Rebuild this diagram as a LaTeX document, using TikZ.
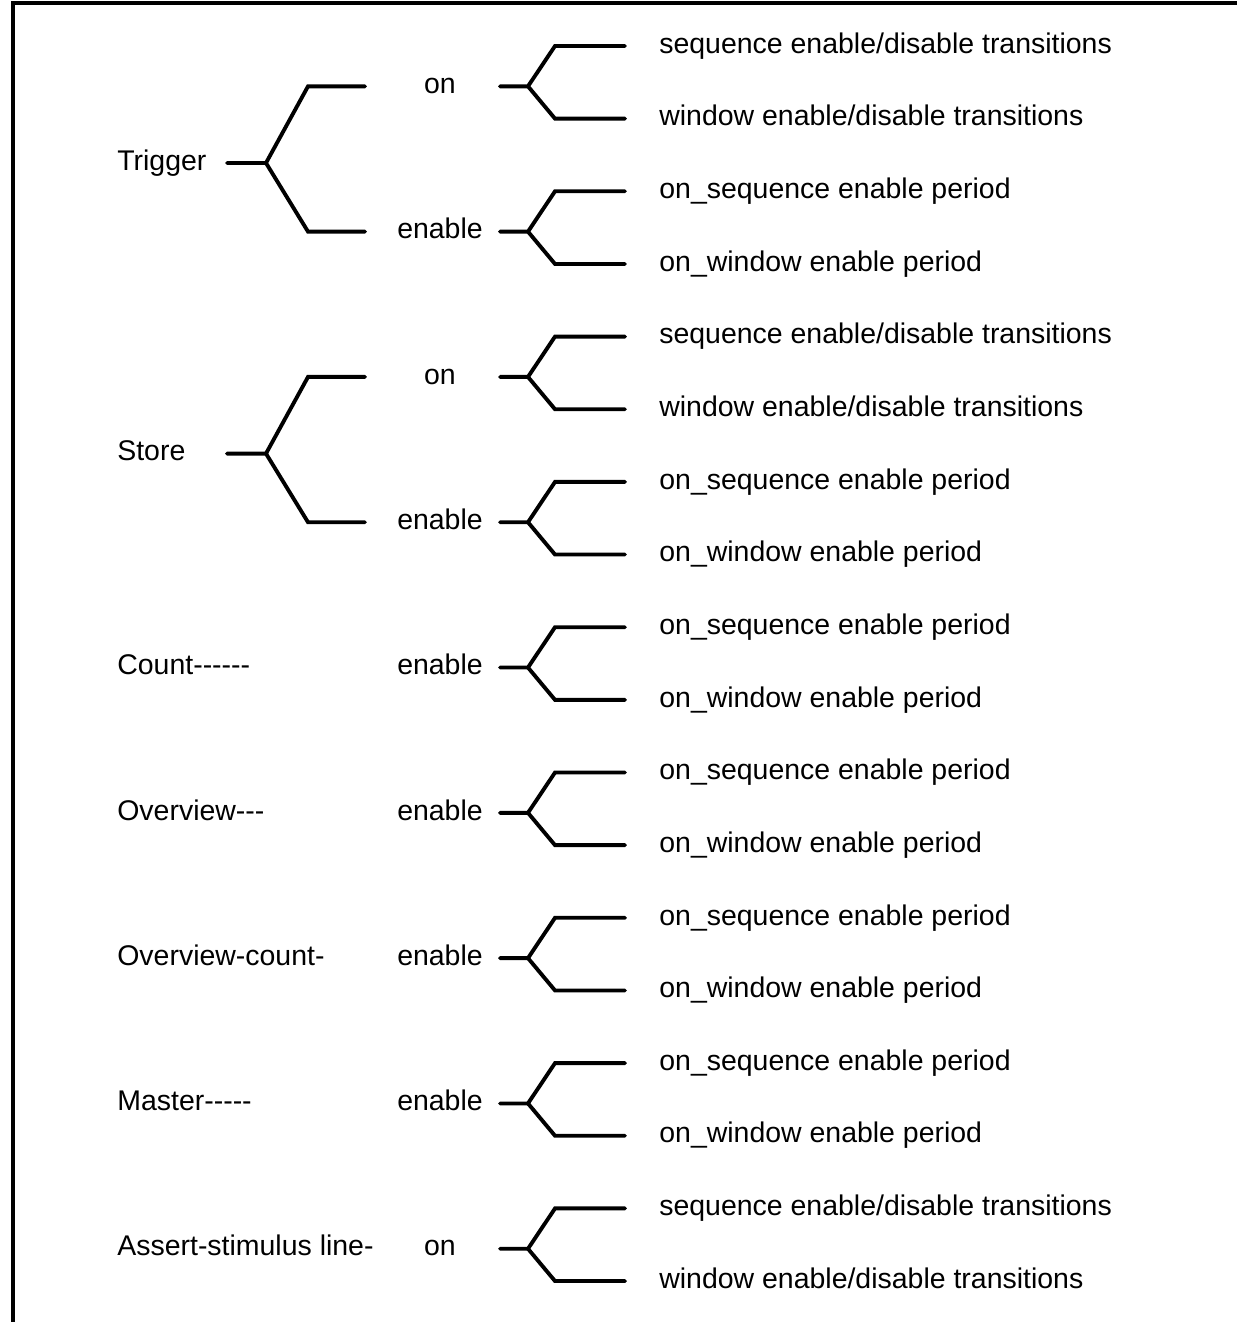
\documentclass[tikz,border=0pt]{standalone}
\usepackage{fontspec}
\setmainfont{Liberation Sans}
\usetikzlibrary{calc}

\begin{document}
\begin{tikzpicture}[
  x=0.02cm, y=-0.02cm,
  every node/.style={font=\fontsize{16.2}{19}\selectfont, inner sep=0pt,
    text height=1.75ex, text depth=.2ex},
  lbl/.style={anchor=west},
  mid/.style={anchor=center},
  leaf/.style={anchor=west},
  fork/.style={line width=2.2pt, line cap=round},
  frame/.style={line width=1.8pt},
]
  \useasboundingbox (0,0) rectangle (1237,1322);
  \draw[frame] (1237,3) -- (13,3) -- (13,1322);

  % right-hand column
  \foreach \t [count=\k from 0] in {
      sequence enable/disable transitions, window enable/disable transitions,
      on\_sequence enable period, on\_window enable period,
      sequence enable/disable transitions, window enable/disable transitions,
      on\_sequence enable period, on\_window enable period,
      on\_sequence enable period, on\_window enable period,
      on\_sequence enable period, on\_window enable period,
      on\_sequence enable period, on\_window enable period,
      on\_sequence enable period, on\_window enable period,
      sequence enable/disable transitions, window enable/disable transitions}
    \node[leaf] (r\k) at (659, {46+72.65*\k}) {\t};

  % middle column with its forks
  \foreach \t [count=\j from 0] in {on,enable,on,enable,enable,enable,enable,enable,on} {
    \pgfmathtruncatemacro\a{2*\j}
    \pgfmathtruncatemacro\b{2*\j+1}
    \node[mid] (m\j) at (440, {50+72.65*(2*\j+0.5)}) {\t};
    \draw[fork] (500,0 |- m\j) -- (528,0 |- m\j) -- (555,0 |- r\a) -- (625,0 |- r\a);
    \draw[fork] (528,0 |- m\j) -- (555,0 |- r\b) -- (625,0 |- r\b);
  }

  % left column
  \node[lbl] (trig)  at (117, {54+72.65*1.5}) {Trigger};
  \node[lbl] (store) at (117, {54+72.65*5.5}) {Store};
  \node[lbl] (cnt)   at (117,0 |- m4) {Count-{}-{}-{}-{}-{}-};
  \node[lbl] (ovw)   at (117,0 |- m5) {Overview-{}-{}-};
  \node[lbl] (ovc)   at (117,0 |- m6) {Overview-count-};
  \node[lbl] (mst)   at (117,0 |- m7) {Master-{}-{}-{}-{}-};
  \node[lbl] (asl)   at (117,0 |- m8) {Assert-stimulus line-};

  \draw[fork] (227,0 |- trig) -- (266,0 |- trig) -- (308,0 |- m0) -- (365,0 |- m0);
  \draw[fork] (266,0 |- trig) -- (308,0 |- m1) -- (365,0 |- m1);
  \draw[fork] (227,0 |- store) -- (266,0 |- store) -- (308,0 |- m2) -- (365,0 |- m2);
  \draw[fork] (266,0 |- store) -- (308,0 |- m3) -- (365,0 |- m3);
\end{tikzpicture}
\end{document}
